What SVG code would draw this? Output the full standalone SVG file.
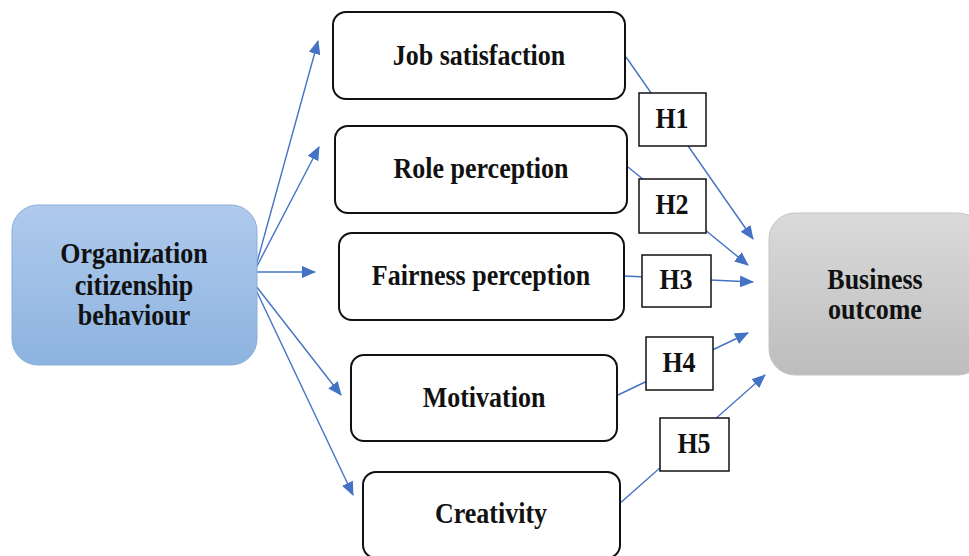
<svg xmlns="http://www.w3.org/2000/svg" width="969" height="556" viewBox="0 0 969 556">
<defs>
<linearGradient id="gBlue" x1="0" y1="0" x2="0" y2="1">
<stop offset="0" stop-color="#afcaec"/>
<stop offset="1" stop-color="#8db3e0"/>
</linearGradient>
<linearGradient id="gGray" x1="0" y1="0" x2="0" y2="1">
<stop offset="0" stop-color="#dadada"/>
<stop offset="1" stop-color="#bdbdbd"/>
</linearGradient>
<marker id="ah" markerUnits="userSpaceOnUse" markerWidth="14" markerHeight="12" refX="13" refY="6" orient="auto">
<path d="M0,0 L14,6 L0,12 z" fill="#4472c4"/>
</marker>
<style>
.t{font-family:"Liberation Serif","Times New Roman",serif;font-weight:bold;font-size:26px;fill:#111;text-anchor:middle}
.box{fill:#fff;stroke:#111;stroke-width:2}
.h{fill:#fff;stroke:#111;stroke-width:1.5}
.c{stroke:#4472c4;stroke-width:1.4;fill:none}
.a{marker-end:url(#ah)}
</style>
</defs>
<rect width="969" height="556" fill="#fff"/>
<g id="connectors">
<line class="c a" x1="256" y1="266" x2="318" y2="41"/>
<line class="c a" x1="256" y1="268" x2="319" y2="147"/>
<line class="c a" x1="257" y1="272" x2="315" y2="272"/>
<line class="c a" x1="256" y1="286" x2="341" y2="395"/>
<line class="c a" x1="256" y1="290" x2="353" y2="495"/>
<line class="c a" x1="626" y1="57" x2="753" y2="239"/>
<line class="c a" x1="628" y1="167" x2="748" y2="265"/>
<line class="c a" x1="624" y1="276" x2="753" y2="282"/>
<line class="c a" x1="618" y1="395" x2="748" y2="333"/>
<line class="c a" x1="618" y1="505" x2="765" y2="375"/>
</g>
<g id="ocb">
<rect x="12" y="205" width="245" height="160" rx="26" fill="url(#gBlue)" stroke="#8aaed8" stroke-width="1"/>
<text class="t" transform="translate(134 263) scale(1 1.12)">Organization</text>
<text class="t" transform="translate(134 295) scale(1 1.12)">citizenship</text>
<text class="t" transform="translate(134 325) scale(1 1.12)">behaviour</text>
</g>
<g id="job">
<rect class="box" x="333" y="12" width="292" height="87" rx="13"/>
<text class="t" transform="translate(479 65) scale(1 1.12)">Job satisfaction</text>
</g>
<g id="role">
<rect class="box" x="335" y="126" width="292" height="87" rx="13"/>
<text class="t" transform="translate(481 178) scale(1 1.12)">Role perception</text>
</g>
<g id="fair">
<rect class="box" x="339" y="233" width="285" height="87" rx="13"/>
<text class="t" transform="translate(481 285) scale(1 1.12)">Fairness perception</text>
</g>
<g id="motivation">
<rect class="box" x="351" y="355" width="266" height="86" rx="13"/>
<text class="t" transform="translate(484 407) scale(1 1.12)">Motivation</text>
</g>
<g id="creativity">
<rect class="box" x="363" y="472" width="257" height="86" rx="13"/>
<text class="t" transform="translate(491 523) scale(1 1.12)">Creativity</text>
</g>
<g id="business">
<rect x="769" y="213" width="215" height="162" rx="26" fill="url(#gGray)" stroke="#c4c4c4" stroke-width="1"/>
<text class="t" transform="translate(875 289) scale(1 1.12)">Business</text>
<text class="t" transform="translate(875 319) scale(1 1.12)">outcome</text>
</g>
<g id="h1"><rect class="h" x="639" y="93" width="67" height="53"/><text class="t" transform="translate(672 128) scale(1 1.12)">H1</text></g>
<g id="h2"><rect class="h" x="639" y="179" width="67" height="54"/><text class="t" transform="translate(672 214) scale(1 1.12)">H2</text></g>
<g id="h3"><rect class="h" x="642" y="255" width="69" height="52"/><text class="t" transform="translate(676 289) scale(1 1.12)">H3</text></g>
<g id="h4"><rect class="h" x="646" y="337" width="67" height="53"/><text class="t" transform="translate(679 372) scale(1 1.12)">H4</text></g>
<g id="h5"><rect class="h" x="660" y="418" width="69" height="53"/><text class="t" transform="translate(694 453) scale(1 1.12)">H5</text></g>
</svg>
